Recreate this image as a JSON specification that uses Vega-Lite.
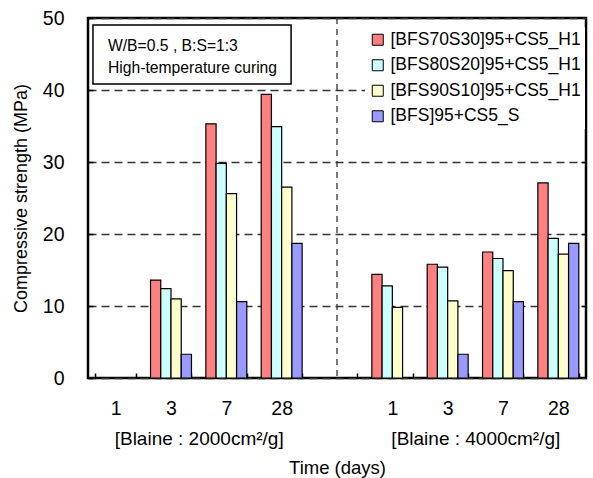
{
  "$schema": "https://vega.github.io/schema/vega-lite/v6.json",
  "width": 498,
  "height": 360,
  "autosize": {"type": "none"},
  "padding": {"left": 88, "top": 18, "right": 7, "bottom": 100},
  "config": {
    "font": "Liberation Sans",
    "view": {"stroke": "black", "strokeWidth": 2.5},
    "axis": {"labelColor": "black", "titleColor": "black", "titleFontWeight": "normal", "labelFont": "Liberation Sans", "titleFont": "Liberation Sans"},
    "legend": {"labelFont": "Liberation Sans"}
  },
  "layer": [
    {
      "data": {
        "values": [
          {"slot": "2000:3", "series": "[BFS70S30]95+CS5_H1", "value": 13.6},
          {"slot": "2000:3", "series": "[BFS80S20]95+CS5_H1", "value": 12.4},
          {"slot": "2000:3", "series": "[BFS90S10]95+CS5_H1", "value": 11.0},
          {"slot": "2000:3", "series": "[BFS]95+CS5_S", "value": 3.3},
          {"slot": "2000:7", "series": "[BFS70S30]95+CS5_H1", "value": 35.3},
          {"slot": "2000:7", "series": "[BFS80S20]95+CS5_H1", "value": 29.8},
          {"slot": "2000:7", "series": "[BFS90S10]95+CS5_H1", "value": 25.6},
          {"slot": "2000:7", "series": "[BFS]95+CS5_S", "value": 10.6},
          {"slot": "2000:28", "series": "[BFS70S30]95+CS5_H1", "value": 39.4},
          {"slot": "2000:28", "series": "[BFS80S20]95+CS5_H1", "value": 34.9},
          {"slot": "2000:28", "series": "[BFS90S10]95+CS5_H1", "value": 26.5},
          {"slot": "2000:28", "series": "[BFS]95+CS5_S", "value": 18.7},
          {"slot": "4000:1", "series": "[BFS70S30]95+CS5_H1", "value": 14.4},
          {"slot": "4000:1", "series": "[BFS80S20]95+CS5_H1", "value": 12.8},
          {"slot": "4000:1", "series": "[BFS90S10]95+CS5_H1", "value": 9.8},
          {"slot": "4000:3", "series": "[BFS70S30]95+CS5_H1", "value": 15.8},
          {"slot": "4000:3", "series": "[BFS80S20]95+CS5_H1", "value": 15.4},
          {"slot": "4000:3", "series": "[BFS90S10]95+CS5_H1", "value": 10.7},
          {"slot": "4000:3", "series": "[BFS]95+CS5_S", "value": 3.3},
          {"slot": "4000:7", "series": "[BFS70S30]95+CS5_H1", "value": 17.5},
          {"slot": "4000:7", "series": "[BFS80S20]95+CS5_H1", "value": 16.6},
          {"slot": "4000:7", "series": "[BFS90S10]95+CS5_H1", "value": 14.9},
          {"slot": "4000:7", "series": "[BFS]95+CS5_S", "value": 10.6},
          {"slot": "4000:28", "series": "[BFS70S30]95+CS5_H1", "value": 27.1},
          {"slot": "4000:28", "series": "[BFS80S20]95+CS5_H1", "value": 19.4},
          {"slot": "4000:28", "series": "[BFS90S10]95+CS5_H1", "value": 17.2},
          {"slot": "4000:28", "series": "[BFS]95+CS5_S", "value": 18.7}
        ]
      },
      "mark": {"type": "bar", "stroke": "black", "strokeWidth": 1.2},
      "encoding": {
        "x": {
          "field": "slot",
          "type": "nominal",
          "sort": null,
          "scale": {
            "domain": ["2000:1", "2000:3", "2000:7", "2000:28", "gap", "4000:1", "4000:3", "4000:7", "4000:28"],
            "paddingInner": 0.26,
            "paddingOuter": 0.13
          },
          "axis": {
            "orient": "bottom",
            "title": null,
            "labelExpr": "isString(datum.value) && indexof(datum.value, ':') >= 0 ? split(datum.value, ':')[1] : ''",
            "labelAngle": 0,
            "labelFontSize": 19.5,
            "labelPadding": 26.6,
            "tickBand": "extent",
            "tickSize": -5,
            "tickColor": "black",
            "tickWidth": 1.5,
            "domain": false,
            "grid": false
          }
        },
        "xOffset": {
          "field": "series",
          "type": "nominal",
          "scale": {
            "domain": ["[BFS70S30]95+CS5_H1", "[BFS80S20]95+CS5_H1", "[BFS90S10]95+CS5_H1", "[BFS]95+CS5_S"],
            "paddingInner": 0,
            "paddingOuter": 0
          }
        },
        "y": {
          "field": "value",
          "type": "quantitative",
          "scale": {"domain": [0, 50], "nice": false},
          "axis": {
            "orient": "left",
            "title": "Compressive strength (MPa)",
            "values": [0, 10, 20, 30, 40, 50],
            "labelFontSize": 19.5,
            "labelPadding": 29,
            "titleFontSize": 18,
            "titlePadding": 12,
            "tickSize": -5,
            "tickColor": "black",
            "tickWidth": 1.5,
            "domain": false,
            "grid": true,
            "gridDash": [8, 5],
            "gridColor": "#333333",
            "gridWidth": 1.3
          }
        },
        "color": {
          "field": "series",
          "type": "nominal",
          "scale": {
            "domain": ["[BFS70S30]95+CS5_H1", "[BFS80S20]95+CS5_H1", "[BFS90S10]95+CS5_H1", "[BFS]95+CS5_S"],
            "range": ["#FF8080", "#CCFFFF", "#FFFFCC", "#9999FF"]
          },
          "legend": {
            "title": null,
            "orient": "none",
            "legendX": 277,
            "legendY": 9,
            "fillColor": "white",
            "padding": 4,
            "symbolType": "square",
            "symbolSize": 121,
            "symbolStrokeColor": "black",
            "symbolStrokeWidth": 1,
            "symbolOpacity": 1,
            "labelFontSize": 17.5,
            "labelColor": "black",
            "labelOffset": 4,
            "labelLimit": 300,
            "rowPadding": 6.5
          }
        }
      }
    },
    {
      "layer": [
        {
          "data": {"values": [{}]},
          "mark": {"type": "rule", "strokeDash": [6, 5], "color": "#333333", "strokeWidth": 1.3},
          "encoding": {
            "x": {
              "datum": 4.5,
              "type": "quantitative",
              "scale": {"domain": [0, 9], "nice": false, "zero": false},
              "axis": {
                "orient": "bottom",
                "values": [2, 7],
                "labelExpr": "datum.value == 2 ? '[Blaine : 2000cm²/g]' : '[Blaine : 4000cm²/g]'",
                "ticks": false,
                "domain": false,
                "grid": false,
                "offset": 50,
                "labelPadding": 1,
                "labelFontSize": 19,
                "labelFlush": false,
                "labelOverlap": false,
                "labelBound": false,
                "title": "Time (days)",
                "titleFontSize": 18.5,
                "titlePadding": 10
              }
            }
          }
        },
        {
          "data": {"values": [{}]},
          "mark": {"type": "rect", "fill": "white", "stroke": "black", "strokeWidth": 1.5},
          "encoding": {
            "x": {"datum": 0.09, "type": "quantitative"},
            "x2": {"datum": 3.67},
            "y": {
              "datum": 49.03,
              "type": "quantitative",
              "axis": {
                "orient": "right",
                "labels": false,
                "values": [10, 20, 30, 40],
                "tickSize": -5,
                "tickColor": "black",
                "tickWidth": 1.5,
                "grid": false,
                "domain": false,
                "title": null
              }
            },
            "y2": {"datum": 40.83}
          }
        },
        {
          "data": {"values": [{}]},
          "mark": {
            "type": "text",
            "align": "left",
            "baseline": "middle",
            "fontSize": 15.7,
            "lineHeight": 22,
            "color": "black",
            "text": ["W/B=0.5 , B:S=1:3", "High-temperature curing"]
          },
          "encoding": {
            "x": {"datum": 0.36, "type": "quantitative"},
            "y": {"datum": 46.1, "type": "quantitative"}
          }
        }
      ]
    }
  ],
  "resolve": {"scale": {"x": "independent", "xOffset": "independent"}, "axis": {"y": "independent"}}
}
